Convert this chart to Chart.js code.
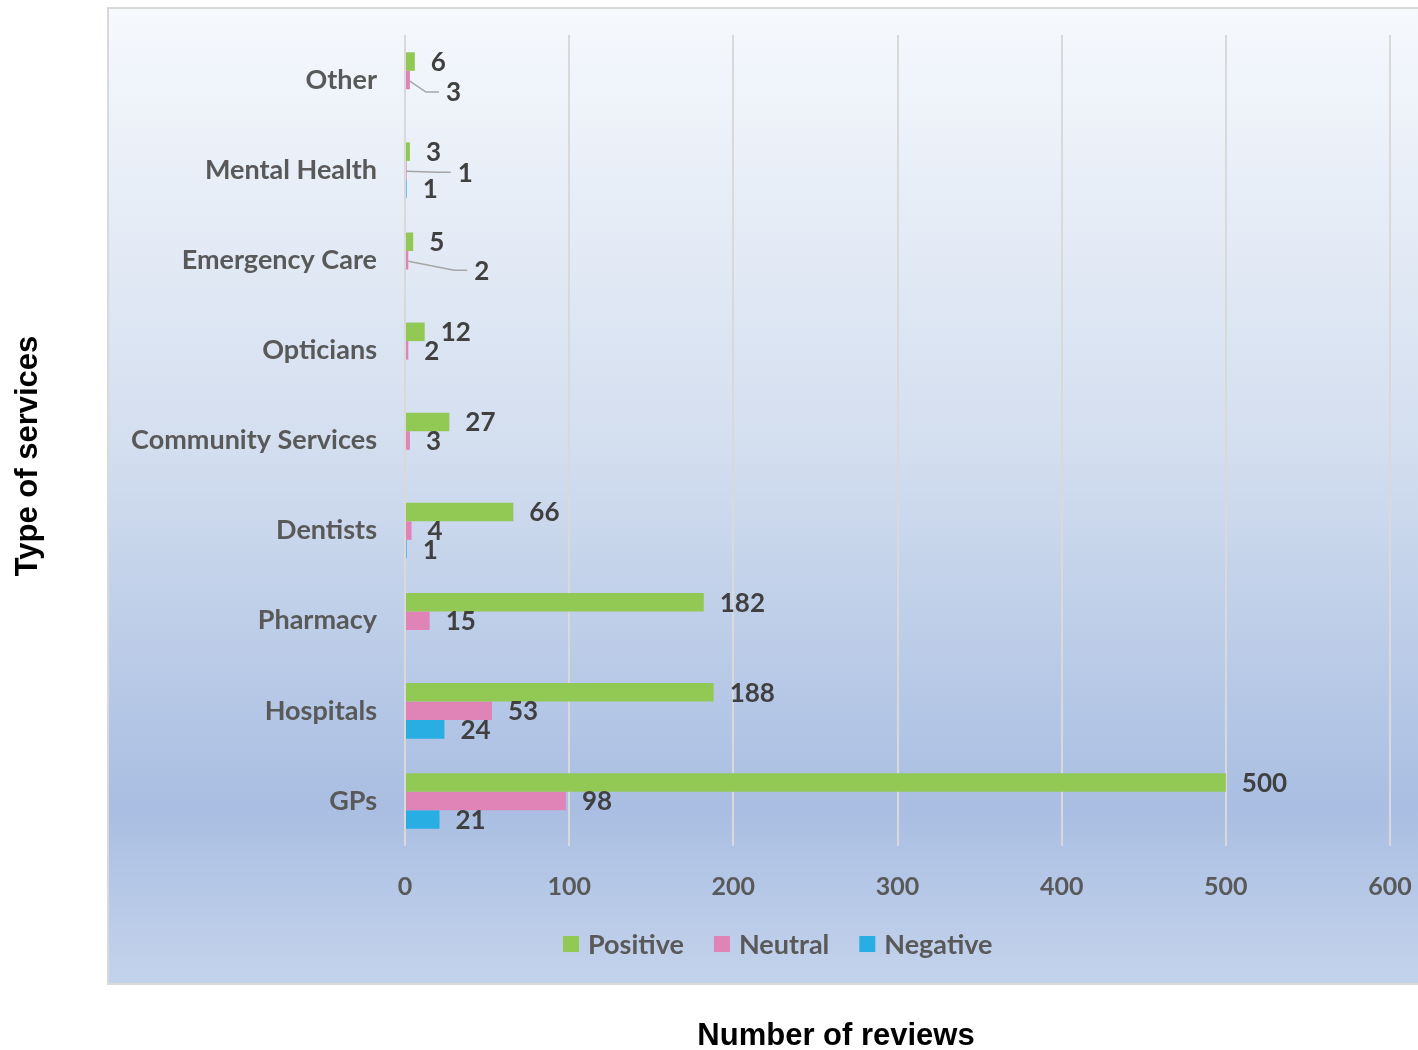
<!DOCTYPE html>
<html>
<head>
<meta charset="utf-8">
<script src="https://cdn.jsdelivr.net/npm/chart.js@4/dist/chart.umd.min.js"></script>
<style>
  html, body { margin: 0; padding: 0; background: #ffffff; }
  #wrap { width: 1418px; height: 1050px; }
</style>
</head>
<body>
<div id="wrap"><canvas id="c" width="1418" height="1050"></canvas></div>
<script>
// ---- Data ----
const categories = ["Other", "Mental Health", "Emergency Care", "Opticians", "Community Services", "Dentists", "Pharmacy", "Hospitals", "GPs"];
const positiveValues = [6, 3, 5, 12, 27, 66, 182, 188, 500];
const neutralValues  = [3, 1, 2, 2, 3, 4, 15, 53, 98];
const negativeValues = [null, 1, null, null, null, 1, null, 24, 21];
const seriesNames = ["Positive", "Neutral", "Negative"];
const xTickValues = [0, 100, 200, 300, 400, 500, 600];
const yAxisTitle = "Type of services";
const xAxisTitle = "Number of reviews";

// ---- Styles ----
const COLORS = ["#92c955", "#e084b7", "#29aee4"];
const VALUE_FONT = "bold 26px Lato";
const LEGEND_FONT = "bold 27px Lato";
const TITLE_FONT = "bold 31px 'Liberation Sans'";

// labels moved off their bar with a leader line (dataset index : category index)
const leaderLabels = {
  "1:0": { dx: 20, dy: 12 },
  "1:1": { dx: 35, dy: 2 },
  "1:2": { dx: 50, dy: 10 }
};

const backgroundPlugin = {
  id: 'bg',
  beforeDraw(chart) {
    const ctx = chart.ctx;
    ctx.save();
    ctx.fillStyle = '#ffffff';
    ctx.fillRect(0, 0, chart.width, chart.height);
    const g = ctx.createLinearGradient(0, 8, 0, 983);
    g.addColorStop(0, '#f6f9fd');
    g.addColorStop(0.45, '#d3deef');
    g.addColorStop(0.82, '#a9bee2');
    g.addColorStop(1, '#c4d3ec');
    ctx.fillStyle = g;
    ctx.fillRect(109, 9, 1320, 974);
    ctx.strokeStyle = '#d9d9d9';
    ctx.lineWidth = 2;
    ctx.strokeRect(108, 8, 1330, 976);
    ctx.restore();
  }
};

const labelPlugin = {
  id: 'valueLabels',
  afterDatasetsDraw(chart) {
    const ctx = chart.ctx;
    ctx.save();
    ctx.font = VALUE_FONT;
    ctx.textAlign = 'left';
    ctx.textBaseline = 'middle';
    chart.data.datasets.forEach((ds, di) => {
      const meta = chart.getDatasetMeta(di);
      meta.data.forEach((el, i) => {
        const v = ds.data[i];
        if (v === null || v === undefined) return;
        let lx = el.x + 16, ly = el.y;
        const adj = leaderLabels[di + ':' + i];
        if (adj) {
          lx += adj.dx; ly += adj.dy;
          ctx.strokeStyle = '#a6a6a6';
          ctx.lineWidth = 1.5;
          ctx.beginPath();
          ctx.moveTo(el.x, el.y + 1);
          ctx.lineTo(lx - 20, ly);
          ctx.lineTo(lx - 7, ly);
          ctx.stroke();
        }
        ctx.fillStyle = '#404040';
        ctx.fillText(String(v), lx, ly + 1);
      });
    });
    ctx.restore();
  }
};

const decorPlugin = {
  id: 'decor',
  afterDraw(chart) {
    const ctx = chart.ctx;
    ctx.save();
    // legend
    ctx.font = LEGEND_FONT;
    ctx.textBaseline = 'middle';
    ctx.textAlign = 'left';
    let x = 563;
    const y = 944;
    chart.data.datasets.forEach((ds) => {
      ctx.fillStyle = ds.backgroundColor;
      ctx.fillRect(x, y - 8, 16, 16);
      x += 25;
      ctx.fillStyle = '#595959';
      ctx.fillText(ds.label, x, y + 1);
      x += ctx.measureText(ds.label).width + 30;
    });
    // axis titles
    ctx.font = TITLE_FONT;
    ctx.fillStyle = '#000000';
    ctx.textAlign = 'center';
    ctx.fillText(xAxisTitle, 836, 1036);
    ctx.translate(28, 456);
    ctx.rotate(-Math.PI / 2);
    ctx.fillText(yAxisTitle, 0, 0);
    ctx.restore();
  }
};

new Chart(document.getElementById('c'), {
  type: 'bar',
  data: {
    labels: categories,
    datasets: [
      { label: seriesNames[0], data: positiveValues, backgroundColor: COLORS[0] },
      { label: seriesNames[1], data: neutralValues, backgroundColor: COLORS[1] },
      { label: seriesNames[2], data: negativeValues, backgroundColor: COLORS[2] }
    ]
  },
  options: {
    indexAxis: 'y',
    responsive: false,
    animation: false,
    devicePixelRatio: 1,
    categoryPercentage: 0.617,
    barPercentage: 1.0,
    layout: { padding: { top: 35, right: 28, left: 0, bottom: 0 } },
    plugins: {
      legend: { display: false },
      tooltip: { enabled: false }
    },
    scales: {
      x: {
        min: 0, max: 600,
        afterBuildTicks(scale) { scale.ticks = xTickValues.map(v => ({ value: v })); },
        afterFit(scale) {
          scale.height = 204;
          scale.paddingLeft = 0; scale.paddingRight = 0;
          scale.paddingTop = 0; scale.paddingBottom = 0;
        },
        grid: { color: '#d9d9d9', lineWidth: 2, drawTicks: false },
        border: { display: false },
        ticks: { font: { family: 'Lato', size: 25, weight: 'bold' }, color: '#595959', padding: 26, maxRotation: 0 }
      },
      y: {
        afterFit(scale) {
          scale.width = 405;
          scale.paddingLeft = 0; scale.paddingRight = 0;
          scale.paddingTop = 0; scale.paddingBottom = 0;
        },
        grid: { display: false, drawTicks: false },
        border: { display: false },
        ticks: { font: { family: 'Lato', size: 27, weight: 'bold' }, color: '#595959', padding: 28 }
      }
    }
  },
  plugins: [backgroundPlugin, labelPlugin, decorPlugin]
});
</script>
</body>
</html>
